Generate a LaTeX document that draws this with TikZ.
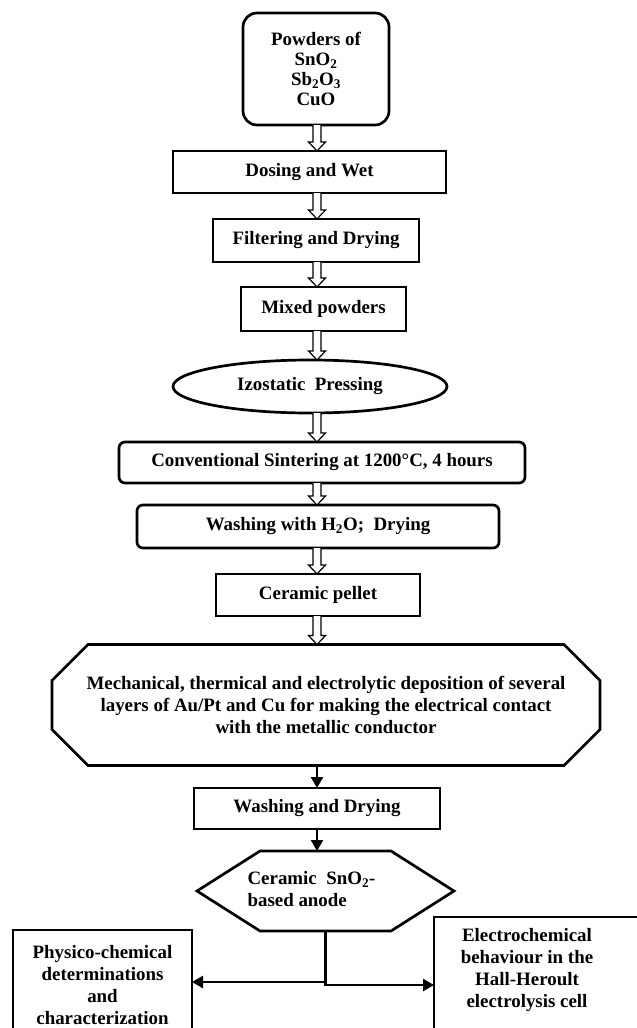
\documentclass[tikz,border=0pt]{standalone}
\usepackage{fontspec}
\setmainfont{Liberation Serif}
\usetikzlibrary{shapes.geometric,arrows.meta,calc}

\tikzset{
  stage/.style={draw, line width=2.7pt, inner sep=0pt, outer sep=0pt, align=center},
  roundstage/.style={stage, rounded corners=6pt},
  hollow/.style={draw, fill=white, line width=1.2pt,
    to path={let \p1=(\tikztostart), \p2=(\tikztotarget) in
      (\x1-4pt,\y1) -- (\x1-4pt,\y2+9pt) -- (\x1-8.5pt,\y2+9pt) -- (\x1,\y2)
      -- (\x1+8.5pt,\y2+9pt) -- (\x1+4pt,\y2+9pt) -- (\x1+4pt,\y1)}},
  flow/.style={line width=2.4pt, -{Triangle[length=11pt,width=12pt]}}
}

\begin{document}
\begin{tikzpicture}[x=1pt, y=-1pt, font=\fontsize{18.9}{21.8}\selectfont\bfseries]
\useasboundingbox (0,0) rectangle (637,1028);
\clip (0,0) rectangle (637,1028);

% axe des fleches
\coordinate (axis) at (317,0);

% Preparation des poudres
\node[stage, rounded corners=14pt, minimum width=146pt, minimum height=112pt,
  font=\fontsize{18.9}{20}\selectfont\bfseries] (powders) at (316,69)
  {Powders of\\SnO\textsubscript{2}\\Sb\textsubscript{2}O\textsubscript{3}\\CuO};
\node[stage, minimum width=273pt, minimum height=42pt] (dosing) at (309.5,172) {Dosing and Wet};
\node[stage, minimum width=206pt, minimum height=43pt] (filter) at (316,240.5) {Filtering and Drying};
\node[stage, minimum width=165pt, minimum height=44pt] (mixed) at (323.5,309) {Mixed powders};

% Pressage et frittage
\node[stage, ellipse, minimum width=274pt, minimum height=53pt] (press) at (310,386.5) {Izostatic\ \ Pressing};
\node[roundstage, minimum width=406pt, minimum height=41pt] (sinter) at (322,462.5)
  {Conventional Sintering at 1200°C, 4 hours};
\node[roundstage, minimum width=362pt, minimum height=43pt] (wash) at (318,526.5)
  {Washing with H\textsubscript{2}O;\ \ Drying};
\node[stage, minimum width=204pt, minimum height=42pt] (pellet) at (318,595) {Ceramic pellet};

% Depot des contacts
\node[minimum width=548pt, minimum height=121pt, inner sep=0pt, outer sep=0pt, align=center] (depo) at (326,705)
  {Mechanical, thermical and electrolytic deposition of several\\
   layers of Au/Pt and Cu for making the electrical contact\\
   with the metallic conductor};
\draw[line width=2.7pt] ([xshift=36pt]depo.north west) -- ([xshift=-36pt]depo.north east)
  -- ([yshift=-36pt]depo.north east) -- ([yshift=36pt]depo.south east)
  -- ([xshift=-36pt]depo.south east) -- ([xshift=36pt]depo.south west)
  -- ([yshift=36pt]depo.south west) -- ([yshift=-36pt]depo.north west) -- cycle;

\node[stage, minimum width=246pt, minimum height=41pt] (dry) at (317,808.5) {Washing and Drying};

% Anode
\node[inner sep=0pt, outer sep=0pt, minimum width=257pt, minimum height=80pt] (anode) at (325.5,891)
  {\begin{tabular}{@{}l@{}}Ceramic\ \ SnO\textsubscript{2}-\\based anode\end{tabular}\hspace*{28pt}};
\draw[line width=2.7pt] (anode.west) -- ([xshift=63pt]anode.north west) -- ([xshift=-63pt]anode.north east)
  -- (anode.east) -- ([xshift=-63pt]anode.south east) -- ([xshift=63pt]anode.south west) -- cycle;

% Essais
\node[stage, anchor=north west, minimum width=179pt, minimum height=110pt] (phys) at (13,930)
  {Physico-chemical\\determinations\\and\\characterization};
\node[stage, anchor=north west, minimum width=250pt, minimum height=126pt] (elec) at (434,917)
  {\begin{tabular}{@{}c@{}}Electrochemical\\behaviour in the\\Hall-Heroult\\electrolysis cell\\[20pt]\end{tabular}\hspace*{64pt}};

% Fleches creuses
\draw[hollow] (powders.south -| axis) to (dosing.north -| axis);
\draw[hollow] (dosing.south -| axis) to (filter.north -| axis);
\draw[hollow] (filter.south -| axis) to (mixed.north -| axis);
\draw[hollow] (mixed.south -| axis) to (press.north -| axis);
\draw[hollow] (press.south -| axis) to (sinter.north -| axis);
\draw[hollow] (sinter.south -| axis) to (wash.north -| axis);
\draw[hollow] (wash.south -| axis) to (pellet.north -| axis);
\draw[hollow] (pellet.south -| axis) to (depo.north -| axis);

% Fleches pleines
\draw[flow] (depo.south -| axis) -- (dry.north -| axis);
\draw[flow] (dry.south -| axis) -- (anode.north -| axis);

\coordinate (split) at (325.5,982);
\coordinate (branch) at (325.5,985);
\draw[flow] (anode.south) |- (branch -| elec.west);
\draw[flow] (split) -- (split -| phys.east);

\end{tikzpicture}
\end{document}
